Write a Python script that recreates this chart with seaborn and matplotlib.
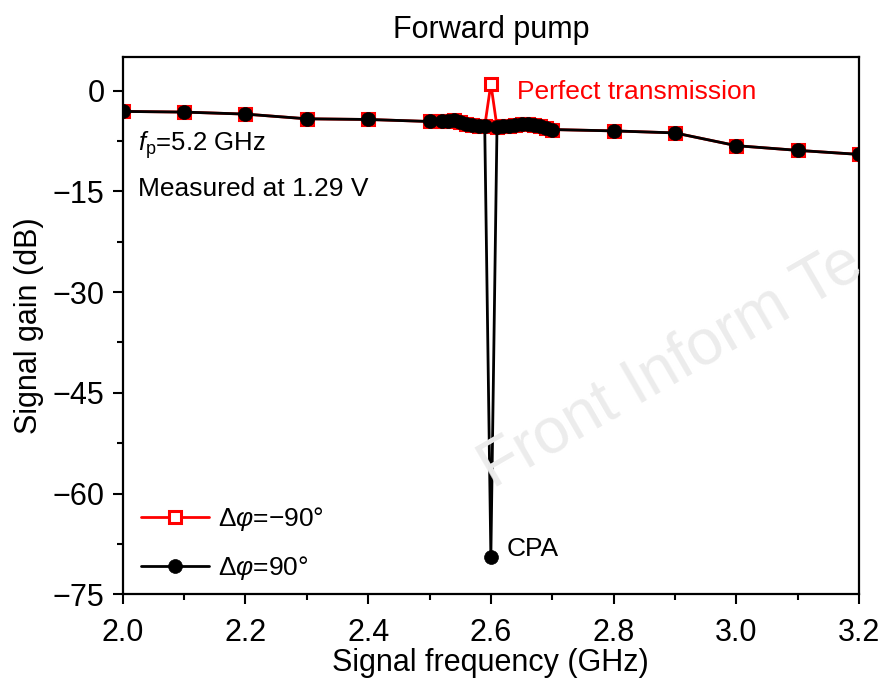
import matplotlib
matplotlib.use("Agg")
import matplotlib.pyplot as plt
import seaborn as sns
import pandas as pd

# ---- data ----
freq = [2.0, 2.1, 2.2, 2.3, 2.4, 2.5, 2.52, 2.53, 2.54, 2.55, 2.56, 2.57, 2.58, 2.59,
        2.6, 2.61, 2.62, 2.63, 2.64, 2.65, 2.66, 2.67, 2.68, 2.69, 2.7,
        2.8, 2.9, 3.0, 3.1, 3.2]
gain_pos90 = [-3.1, -3.2, -3.5, -4.2, -4.3, -4.6, -4.6, -4.5, -4.4, -4.7, -4.9, -5.1, -5.2, -5.3,
              -69.4, -5.4, -5.3, -5.2, -5.1, -5.0, -5.0, -5.1, -5.3, -5.5, -5.8,
              -6.0, -6.3, -8.2, -8.9, -9.5]
gain_neg90 = [-3.1, -3.2, -3.5, -4.2, -4.3, -4.6, -4.6, -4.5, -4.4, -4.7, -4.9, -5.1, -5.2, -5.3,
              1.0, -5.4, -5.3, -5.2, -5.1, -5.0, -5.0, -5.1, -5.3, -5.5, -5.8,
              -6.0, -6.3, -8.2, -8.9, -9.5]
label_neg = "Δ$\\mathit{φ}$=−90°"
label_pos = "Δ$\\mathit{φ}$=90°"
x_ticks = [2.0, 2.2, 2.4, 2.6, 2.8, 3.0, 3.2]
y_ticks = [0, -15, -30, -45, -60, -75]

sns.set_style("ticks")
plt.rcParams["font.family"] = ["Liberation Sans", "DejaVu Sans"]
plt.rcParams["mathtext.fontset"] = "custom"
plt.rcParams["mathtext.rm"] = "Liberation Sans"
plt.rcParams["mathtext.it"] = "Liberation Sans:italic"
plt.rcParams["axes.unicode_minus"] = True
for k in ["text.color", "axes.labelcolor", "xtick.color", "ytick.color", "axes.edgecolor"]:
    plt.rcParams[k] = "black"

df_neg = pd.DataFrame({"f": freq, "g": gain_neg90})
df_pos = pd.DataFrame({"f": freq, "g": gain_pos90})

fig = plt.figure(figsize=(8.83, 6.82), dpi=100)
ax = fig.add_axes([0.139, 0.1286, 0.8338, 0.7878])

sns.lineplot(data=df_neg, x="f", y="g", ax=ax, sort=False, color="#ff0000",
             lw=2.0, marker="s", markersize=8.5, markerfacecolor="white",
             markeredgecolor="#ff0000", markeredgewidth=2.2, label=label_neg)
sns.lineplot(data=df_pos, x="f", y="g", ax=ax, sort=False, color="black",
             lw=2.0, marker="o", markersize=10, markerfacecolor="black",
             markeredgecolor="black", markeredgewidth=0.5, label=label_pos)

ax.set_xlim(2.0, 3.2)
ax.set_ylim(-75, 5)
ax.set_xticks(x_ticks)
ax.set_yticks(y_ticks)
ax.set_xticks([2.1, 2.3, 2.5, 2.7, 2.9, 3.1], minor=True)
ax.set_yticks([-7.5, -22.5, -37.5, -52.5, -67.5], minor=True)
ax.set_xticklabels([f"{v:.1f}" for v in x_ticks])
ax.set_yticklabels([f"{v:d}".replace("-", "−") for v in y_ticks])
ax.tick_params(which="major", direction="out", length=7, width=1.5, labelsize=22, pad=6)
ax.tick_params(axis="x", which="major", pad=10)
ax.tick_params(which="minor", direction="out", length=4, width=1.5)
for s in ax.spines.values():
    s.set_linewidth(1.6)
    s.set_visible(True)

ax.set_xlabel("Signal frequency (GHz)", fontsize=22, labelpad=0)
ax.set_ylabel("Signal gain (dB)", fontsize=22, labelpad=6)
ax.set_title("Forward pump", fontsize=22, pad=14)

ax.text(2.025, -8.1, "$\\mathit{f}_{\\mathrm{p}}$=5.2 GHz", fontsize=18.5, va="center", ha="left")
ax.text(2.025, -14.6, "Measured at 1.29 V", fontsize=19, va="center", ha="left")
ax.text(2.642, -0.15, "Perfect transmission", fontsize=19, color="#ff0000", va="center", ha="left")
ax.text(2.626, -68.2, "CPA", fontsize=19, va="center", ha="left")

leg = ax.legend(loc="lower left", bbox_to_anchor=(0.008, 0.0), frameon=False, fontsize=19,
                handlelength=2.6, handletextpad=0.35, labelspacing=0.8, borderaxespad=0.25,
                borderpad=0.2)

fig.text(0.548, 0.305, "Front Inform Te", fontsize=46, color="#ececec", rotation=30,
         ha="left", va="center", zorder=0, rotation_mode="anchor")

fig.savefig("out.png", dpi=100)
